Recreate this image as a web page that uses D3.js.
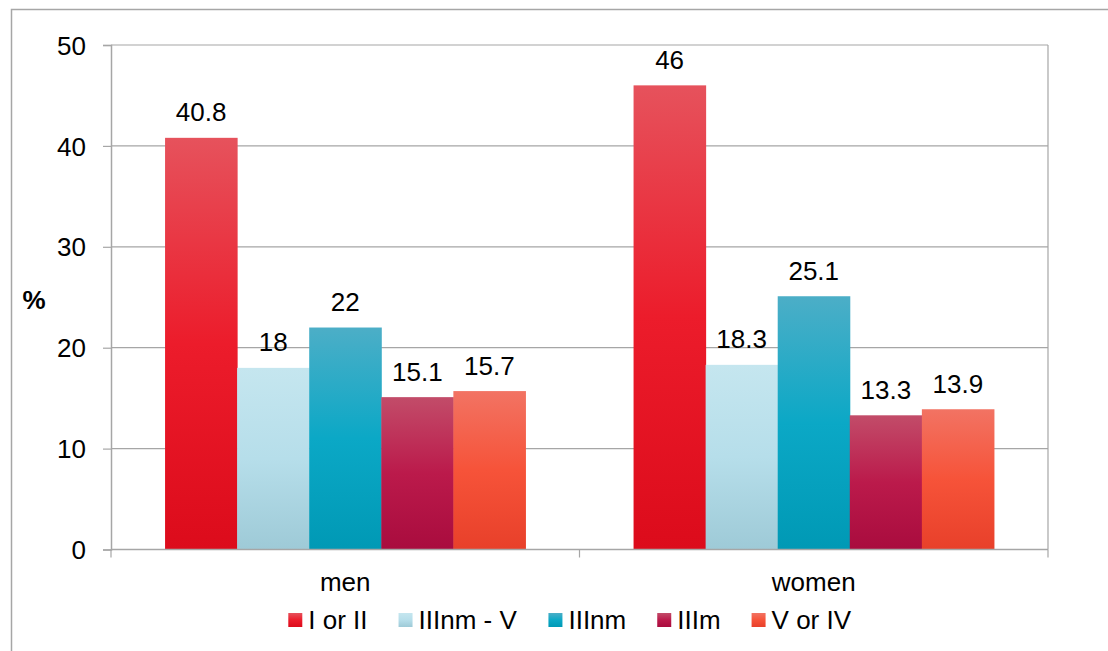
<!DOCTYPE html>
<html>
<head>
<meta charset="utf-8">
<script src="https://cdn.jsdelivr.net/npm/d3@7/dist/d3.min.js"></script>
<style>
  html, body { margin: 0; padding: 0; background: #ffffff; }
  svg { display: block; font-family: Arial, "Liberation Sans", sans-serif; }
</style>
</head>
<body>
<svg id="chart" width="1108" height="651"></svg>
<script>
// Share (%) in each social class, by sex
const groups = ["men", "women"];
const seriesNames = ["I or II", "IIInm - V", "IIInm", "IIIm", "V or IV"];
const menValues = [40.8, 18, 22, 15.1, 15.7];
const womenValues = [46, 18.3, 25.1, 13.3, 13.9];
const yTicks = [0, 10, 20, 30, 40, 50];

// top / middle / bottom colour of each series' gradient fill
const seriesGradients = [
  ["#e6525c", "#ec1c2b", "#dc0b1b"],
  ["#c5e6ef", "#b6deea", "#9ecad7"],
  ["#4caec7", "#0ba8c6", "#0099b5"],
  ["#c24c69", "#bb1a4b", "#a90c3e"],
  ["#f27363", "#f65339", "#e8402a"]
];

const valuesByGroup = [menValues, womenValues];

const svg = d3.select("#chart");
const grey = "#a6a6a6";

// outer frame
svg.append("path")
  .attr("d", "M11.5,651 V9.5 H1108")
  .attr("fill", "none").attr("stroke", grey).attr("stroke-width", 1.5);

const plot = { left: 111, right: 1048, top: 45, bottom: 549.5 };

const y = d3.scaleLinear().domain([0, 50]).range([plot.bottom, plot.top]);
const x0 = d3.scaleBand().domain(groups).range([plot.left, plot.right])
  .paddingInner(0).paddingOuter(0);
// five bars plus a gap of 1.5 bar widths per group
const x1 = d3.scaleBand().domain(seriesNames)
  .range([0, x0.bandwidth()]).paddingInner(0).paddingOuter(0.75);

// gradients
const defs = svg.append("defs");
seriesGradients.forEach((c, i) => {
  const g = defs.append("linearGradient").attr("id", "grad" + i)
    .attr("x1", 0).attr("y1", 0).attr("x2", 0).attr("y2", 1);
  g.append("stop").attr("offset", "0%").attr("stop-color", c[0]);
  g.append("stop").attr("offset", "50%").attr("stop-color", c[1]);
  g.append("stop").attr("offset", "100%").attr("stop-color", c[2]);
});

// gridlines
svg.append("g").selectAll("line").data(yTicks.filter(d => d > 0)).join("line")
  .attr("x1", plot.left).attr("x2", plot.right)
  .attr("y1", d => y(d)).attr("y2", d => y(d))
  .attr("stroke", grey).attr("stroke-width", 1.2);

// right border of plot
svg.append("line")
  .attr("x1", plot.right).attr("x2", plot.right)
  .attr("y1", plot.top).attr("y2", plot.bottom)
  .attr("stroke", grey).attr("stroke-width", 1.2);

// y axis
const yAxis = svg.append("g").attr("transform", `translate(${plot.left},0)`)
  .call(d3.axisLeft(y).tickValues(yTicks).tickSize(8).tickPadding(17).tickFormat(d3.format("d")));
yAxis.select(".domain").attr("stroke", grey).attr("stroke-width", 1.5);
yAxis.selectAll(".tick line").attr("stroke", grey).attr("stroke-width", 1.2);
yAxis.selectAll(".tick text").attr("fill", "#000").attr("font-size", 26)
  .attr("font-family", "Arial, 'Liberation Sans', sans-serif").attr("dy", "0.35em");

// bars
const groupG = svg.append("g").selectAll("g").data(groups).join("g")
  .attr("transform", d => `translate(${x0(d)},0)`);

groupG.selectAll("rect")
  .data((g, gi) => seriesNames.map((s, si) => ({ s, si, v: valuesByGroup[gi][si] })))
  .join("rect")
  .attr("x", d => x1(d.s))
  .attr("width", x1.bandwidth() + 0.5)
  .attr("y", d => y(d.v))
  .attr("height", d => y(0) - y(d.v))
  .attr("fill", d => `url(#grad${d.si})`);

groupG.selectAll("text")
  .data((g, gi) => seriesNames.map((s, si) => ({ s, si, v: valuesByGroup[gi][si] })))
  .join("text")
  .attr("x", d => x1(d.s) + x1.bandwidth() / 2)
  .attr("y", d => y(d.v) - 16.5)
  .attr("text-anchor", "middle")
  .attr("font-size", 26)
  .attr("fill", "#000")
  .text(d => d.v);

// x axis
const xAxis = svg.append("g").attr("transform", `translate(0,${plot.bottom})`);
xAxis.append("line").attr("x1", plot.left).attr("x2", plot.right)
  .attr("stroke", grey).attr("stroke-width", 1.5);
xAxis.selectAll("line.tk").data([plot.left, x0("women"), plot.right]).join("line")
  .attr("class", "tk")
  .attr("x1", d => d).attr("x2", d => d).attr("y1", 0).attr("y2", 8)
  .attr("stroke", grey).attr("stroke-width", 1.2);
xAxis.selectAll("text").data(groups).join("text")
  .attr("x", d => x0(d) + x0.bandwidth() / 2)
  .attr("y", 41)
  .attr("text-anchor", "middle")
  .attr("font-size", 26)
  .attr("fill", "#000")
  .text(d => d);

// axis title
svg.append("text").attr("x", 34).attr("y", 309)
  .attr("text-anchor", "middle").attr("font-size", 26).attr("font-weight", "bold")
  .text("%");

// legend
const legend = svg.append("g");
const sq = 14, gapText = 6, gapItem = 31;
let cursor = 0;
const items = legend.selectAll("g").data(seriesNames).join("g");
items.append("rect").attr("width", sq).attr("height", sq).attr("y", -sq)
  .attr("fill", (d, i) => `url(#grad${i})`);
items.append("text").attr("x", sq + gapText).attr("y", 0)
  .attr("font-size", 26).attr("fill", "#000").text(d => d);
items.each(function () {
  const w = this.getBBox().width;
  d3.select(this).attr("transform", `translate(${cursor},0)`);
  cursor += w + gapItem;
});
const totalW = cursor - gapItem;
legend.attr("transform", `translate(${570 - totalW / 2},629)`);
items.select("rect").attr("y", -16);
</script>
</body>
</html>
